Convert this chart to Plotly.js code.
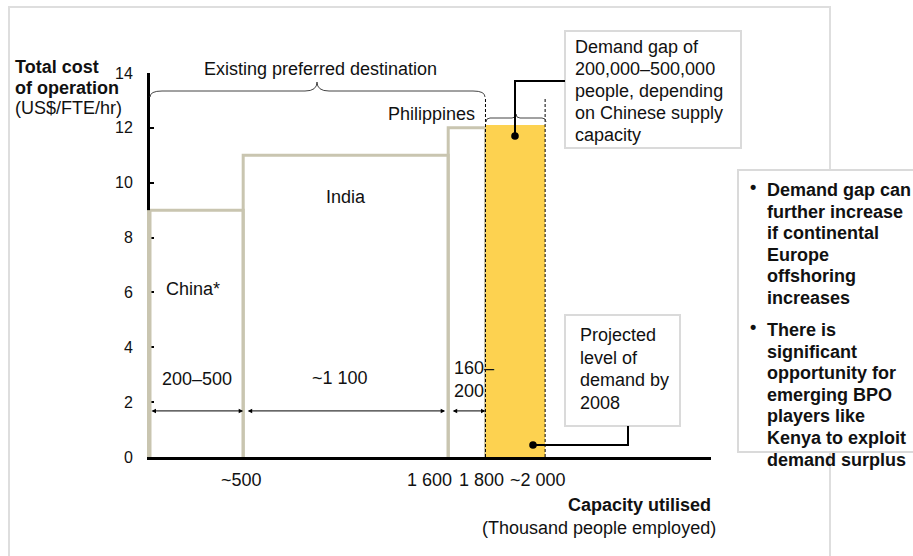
<!DOCTYPE html>
<html><head><meta charset="utf-8">
<script src="https://cdn.plot.ly/plotly-3.0.1.min.js"></script>
<style>html,body{margin:0;padding:0;background:#fff}#chart{width:913px;height:556px}</style>
</head><body><div id="chart"></div>
<script>
// ---- data ----
const countries = ['China*', 'India', 'Philippines'];
const capacityStart = [0, 500, 1600];
const capacityEnd = [500, 1600, 1800];
const costOfOperation = [9, 11, 12];
const capacityRangeLabels = ['200–500', '~1 100', '160–<br>200'];
const gapStart = 1800;
const gapEnd = 2120;
const gapCost = 12.1;
const xTickVals = [500, 1600, 1800, 2120];
const xTickText = ['~500', '1 600', '1 800', '~2 000'];
const yTickVals = [0, 2, 4, 6, 8, 10, 12, 14];

// ---- layout geometry (pixels) ----
const W = 913, H = 556, L = 150, R = 711, T = 73, B = 457;
const px = X => (X - L) / (R - L);
const py = Y => (B - Y) / (B - T);
const FONT = 'Liberation Sans, Arial, Helvetica, sans-serif';
const BEIGE = '#c9c5b0';
const YELLOW = '#fdd250';
const BOXLINE = '#dadada';
const TXT = '#111111';
const AXW = 3;

const traces = [];
countries.forEach((c, i) => {
  traces.push({
    type: 'scatter', mode: 'lines', name: c,
    x: [capacityStart[i], capacityStart[i], capacityEnd[i], capacityEnd[i]],
    y: [0, costOfOperation[i], costOfOperation[i], 0],
    line: {color: BEIGE, width: 3}, hoverinfo: 'skip', showlegend: false
  });
});
traces.push({
  type: 'scatter', mode: 'lines', name: 'Demand gap',
  x: [gapStart, gapStart, gapEnd, gapEnd, gapStart],
  y: [0, gapCost, gapCost, 0, 0],
  fill: 'toself', fillcolor: YELLOW, line: {width: 0, color: YELLOW},
  hoverinfo: 'skip', showlegend: false
});
const dashTop = (B - 97) / (B - T) * 14;
[gapStart, gapEnd].forEach(v => {
  traces.push({
    type: 'scatter', mode: 'lines', x: [v, v], y: [0, dashTop],
    line: {color: '#000', width: 1, dash: '3px,2px'}, hoverinfo: 'skip', showlegend: false
  });
});

const annotations = [];
function txt(X, Y, text, opt) {
  opt = opt || {};
  annotations.push({
    xref: 'paper', yref: 'paper', x: px(X), y: py(Y), text: text,
    xanchor: opt.anchor || 'center', yanchor: 'middle', showarrow: false,
    align: opt.align || (opt.anchor === 'right' ? 'right' : 'left'),
    font: {family: FONT, size: opt.size || 18, color: TXT, weight: opt.bold ? 'bold' : 'normal'}
  });
}

// region labels
txt(320, 69, 'Existing preferred destination');
txt(431, 114, 'Philippines');
txt(346, 197, 'India');
txt(164, 289, countries[0], {anchor: 'left'});
const rangeLabelPos = [[197, 379, 'center'], [340, 378, 'center'], [452, 379.5, 'left']];
capacityRangeLabels.forEach((t, i) => txt(rangeLabelPos[i][0], rangeLabelPos[i][1], t, {anchor: rangeLabelPos[i][2]}));

// capacity arrows
capacityStart.forEach((s, i) => {
  annotations.push({
    xref: 'x', yref: 'y', axref: 'x', ayref: 'y',
    x: capacityEnd[i], y: 1.68, ax: s, ay: 1.68, text: '',
    showarrow: true, arrowside: 'end+start', arrowhead: 2, arrowsize: 0.9, arrowwidth: 1,
    arrowcolor: '#000', standoff: i === 1 ? 3 : 0, startstandoff: i === 0 ? 0 : 3
  });
});

// x tick labels
const xTickShift = [-2, -19, -4, -7];
xTickVals.forEach((v, i) => {
  annotations.push({
    xref: 'x', yref: 'paper', x: v, y: py(480), xshift: xTickShift[i], text: xTickText[i],
    showarrow: false, xanchor: 'center', yanchor: 'middle',
    font: {family: FONT, size: 18, color: TXT}
  });
});

// axis titles
txt(713, 505, 'Capacity utilised', {anchor: 'right', bold: true});
txt(718, 528, '(Thousand people employed)', {anchor: 'right'});
txt(13, 67, 'Total cost', {anchor: 'left', bold: true});
txt(13, 88, 'of operation', {anchor: 'left', bold: true});
txt(13, 108, '(US$/FTE/hr)', {anchor: 'left'});

// box 1
['Demand gap of', '200,000–500,000', 'people, depending', 'on Chinese supply', 'capacity']
  .forEach((t, i) => txt(573, 47 + i * 22, t, {anchor: 'left'}));
// box 2
['Projected', 'level of', 'demand by', '2008']
  .forEach((t, i) => txt(578, 335 + i * 22.5, t, {anchor: 'left'}));
// right box
const bullet1 = ['Demand gap can', 'further increase', 'if continental', 'Europe', 'offshoring', 'increases'];
const bullet2 = ['There is', 'significant', 'opportunity for', 'emerging BPO', 'players like', 'Kenya to exploit', 'demand surplus'];
txt(753, 187, '•', {size: 18, bold: true});
bullet1.forEach((t, i) => txt(765, 190 + i * 21.6, t, {anchor: 'left', bold: true}));
txt(753, 327, '•', {size: 18, bold: true});
bullet2.forEach((t, i) => txt(765, 330 + i * 21.6, t, {anchor: 'left', bold: true}));

// shapes
function path(pts) {
  return pts.map(p => p[0] + ' ' + p.slice(1).map((v, k) => k % 2 === 0 ? px(v) : py(v)).join(',')).join(' ');
}
const shapes = [];
shapes.push({type: 'path', xref: 'paper', yref: 'paper', layer: 'below',
  path: path([['M', 9, 560], ['L', 9, 7], ['L', 830, 7], ['L', 830, 560]]),
  line: {color: '#dedede', width: 2}});
function box(x0, y0, x1, y1) {
  shapes.push({type: 'rect', xref: 'paper', yref: 'paper', layer: 'below',
    x0: px(x0), x1: px(x1), y0: py(y1), y1: py(y0),
    line: {color: BOXLINE, width: 2}, fillcolor: '#ffffff'});
}
box(565, 31, 741, 148);
box(565, 315, 680, 426);
box(738, 170, 930, 452);
// China bar's left edge drawn over the y-axis line (the plot clip would halve it)
shapes.push({type: 'line', xref: 'paper', yref: 'y', layer: 'above',
  x0: px(L - AXW / 2), x1: px(L - AXW / 2), y0: 0, y1: costOfOperation[0],
  line: {color: BEIGE, width: 3}});
shapes.push({type: 'path', xref: 'paper', yref: 'paper',
  path: path([['M', 150, 97], ['Q', 150, 91, 162, 91], ['L', 305, 91], ['Q', 317, 91, 317, 82],
              ['Q', 317, 91, 329, 91], ['L', 473, 91], ['Q', 485, 91, 485, 97]]),
  line: {color: '#444', width: 1}});
shapes.push({type: 'path', xref: 'paper', yref: 'paper',
  path: path([['M', 486, 122], ['Q', 486, 118, 490, 118], ['L', 512, 118], ['Q', 516, 118, 516, 114],
              ['Q', 516, 118, 520, 118], ['L', 542, 118], ['Q', 546, 118, 546, 122]]),
  line: {color: '#444', width: 1}});
shapes.push({type: 'path', xref: 'paper', yref: 'paper',
  path: path([['M', 565, 81], ['L', 515, 81], ['L', 515, 136]]), line: {color: '#000', width: 2}});
shapes.push({type: 'path', xref: 'paper', yref: 'paper',
  path: path([['M', 628, 426], ['L', 628, 445], ['L', 533, 445]]), line: {color: '#000', width: 2}});
function dot(X, Y, r) {
  shapes.push({type: 'circle', xref: 'paper', yref: 'paper',
    x0: px(X - r), x1: px(X + r), y0: py(Y + r), y1: py(Y - r),
    fillcolor: '#000', line: {color: '#000', width: 0}});
}
dot(515, 136, 3.8);
dot(533, 445, 3.8);

const layout = {
  width: W, height: H,
  margin: {l: L, r: W - R, t: T, b: H - B, pad: 0, autoexpand: false},
  paper_bgcolor: '#fff', plot_bgcolor: 'rgba(0,0,0,0)',
  showlegend: false,
  xaxis: {range: [0, 3010], showgrid: false, zeroline: false, showticklabels: false, ticks: '',
          showline: true, linecolor: '#000', linewidth: AXW, layer: 'above traces', fixedrange: true},
  yaxis: {range: [0, 14], showgrid: false, zeroline: false, tickvals: yTickVals,
          ticks: 'inside', ticklen: 4, tickwidth: 2, tickcolor: '#000',
          ticklabelstandoff: 11,
          tickfont: {family: FONT, size: 16, color: TXT},
          showline: true, linecolor: '#000', linewidth: AXW, layer: 'below traces', fixedrange: true},
  annotations: annotations,
  shapes: shapes
};
Plotly.newPlot('chart', traces, layout, {staticPlot: true, displayModeBar: false});
</script>
</body></html>
